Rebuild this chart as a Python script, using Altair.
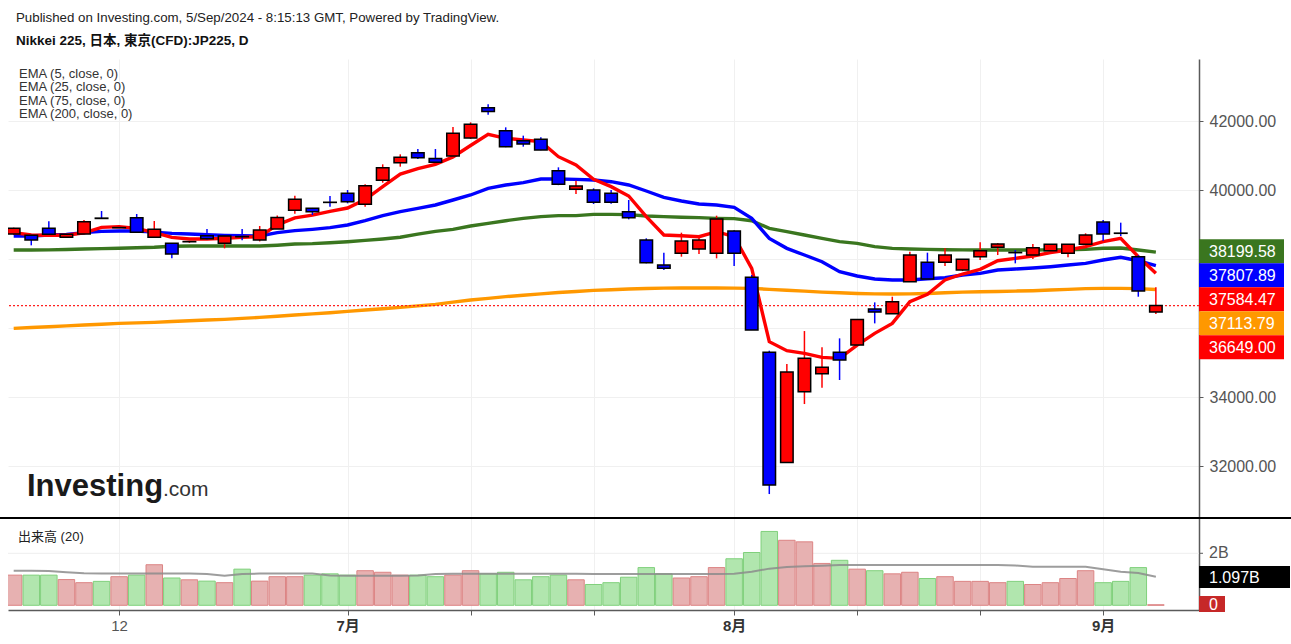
import altair as alt
import pandas as pd

FONT = "Liberation Sans, Arial, Noto Sans CJK JP, sans-serif"

# ---------------- data ----------------
# trading-day index 0 = 4 Jun 2024 ... 65 = 5 Sep 2024
idx = list(range(66))
opens = [38725, 38686, 38889, 38628, 38725, 39185, 38906, 39198, 38628, 38454,
         38500, 38676, 38454, 38650, 38551, 38870, 39410, 39468, 39645, 39903,
         39584, 40280, 40792, 41082, 40910, 40985, 41510, 42387, 41720, 41430,
         41469, 40560, 40019, 39999, 39903, 39372, 38550, 37826, 38164, 38290,
         38164, 38811, 37468, 35294, 32105, 34154, 34675, 35294, 35506, 36550,
         36415, 37342, 37903, 37903, 37681, 38067, 38338, 38190, 38115, 38241,
         38164, 38425, 39072, 38750, 38067, 36463]
highs = [38910, 38700, 39092, 38720, 39130, 39391, 38914, 39304, 39101, 38460,
         38505, 38870, 38667, 38870, 38957, 39260, 39835, 39480, 39826, 40000,
         40164, 40744, 41034, 41188, 41188, 41826, 41961, 42483, 41816, 41575,
         41527, 40657, 40270, 40048, 40000, 39710, 38599, 38183, 38763, 38620,
         39256, 38830, 37536, 35342, 34955, 35912, 35439, 35700, 36250, 36743,
         36907, 38212, 38183, 38309, 38000, 38483, 38460, 38260, 38434, 38425,
         38425, 38744, 39130, 39053, 38110, 37178]
lows = [38700, 38396, 38700, 38620, 38720, 39165, 38904, 38773, 38628, 38020,
        38470, 38560, 38309, 38540, 38510, 38870, 39314, 39275, 39517, 39613,
        39517, 40212, 40676, 40900, 40790, 40950, 41480, 42180, 41240, 41256,
        41150, 40140, 39884, 39594, 39600, 39150, 37874, 37681, 38067, 38145,
        38019, 37797, 35941, 31187, 32105, 33796, 34270, 34492, 35506, 36134,
        36415, 37342, 37391, 37797, 37650, 37970, 38115, 37874, 38000, 38241,
        38048, 38405, 38531, 38666, 36907, 36405]
closes = [38889, 38551, 38715, 38715, 39082, 39175, 38910, 38773, 38860, 38145,
          38505, 38590, 38667, 38645, 38841, 39200, 39729, 39372, 39640, 39661,
          40126, 40647, 40947, 40937, 40802, 41643, 41904, 42275, 41256, 41333,
          41159, 40164, 40116, 39642, 39642, 39198, 37893, 37729, 38521, 38550,
          39159, 38164, 35941, 31448, 34724, 35120, 34859, 35072, 36250, 36463,
          36763, 38115, 37420, 38115, 37990, 38241, 38434, 38183, 38328, 38425,
          38425, 38695, 38724, 38744, 37072, 36649]
ema5 = [38763, 38695, 38690, 38690, 38760, 38917, 38937, 38889, 38763, 38628,
        38580, 38580, 38599, 38628, 38647, 38990, 39190, 39270, 39380, 39478,
        39720, 40100, 40460, 40620, 40740, 40960, 41290, 41614, 41497, 41449,
        41401, 40966, 40725, 40309, 40097, 39826, 39227, 38695, 38676, 38647,
        38792, 38647, 37730, 35603, 35342, 35265, 35149, 35120, 35506, 35844,
        36134, 36763, 36975, 37391, 37565, 37700, 37951, 38019, 38086, 38183,
        38260, 38357, 38502, 38599, 38067, 37584]
ema25 = [38667, 38667, 38695, 38710, 38763, 38802, 38812, 38812, 38780, 38744,
         38724, 38705, 38686, 38676, 38667, 38763, 38821, 38860, 38908, 38985,
         39110, 39256, 39372, 39468, 39565, 39710, 39855, 40048, 40145, 40212,
         40319, 40319, 40309, 40290, 40241, 40145, 39971, 39787, 39681, 39594,
         39565, 39497, 39178, 38598, 38309, 38115, 37922, 37632, 37507, 37420,
         37391, 37391, 37429, 37458, 37536, 37584, 37680, 37710, 37739, 37777,
         37825, 37874, 37970, 38048, 37950, 37808]
ema75 = [38260, 38262, 38265, 38275, 38290, 38300, 38310, 38325, 38340, 38370,
         38375, 38375, 38375, 38375, 38375, 38400, 38435, 38445, 38470, 38500,
         38540, 38580, 38630, 38720, 38800, 38860, 38956, 39033, 39110, 39179,
         39227, 39256, 39256, 39294, 39294, 39285, 39246, 39227, 39210, 39198,
         39179, 39169, 39110, 38888, 38792, 38695, 38598, 38502, 38454, 38357,
         38309, 38290, 38280, 38270, 38265, 38260, 38260, 38260, 38262, 38265,
         38270, 38280, 38310, 38320, 38260, 38200]
ema200 = [35990, 36014, 36038, 36062, 36086, 36110, 36134, 36148, 36163, 36188,
          36212, 36231, 36250, 36279, 36308, 36342, 36376, 36410, 36444, 36482,
          36521, 36560, 36598, 36640, 36685, 36750, 36810, 36860, 36910, 36950,
          36990, 37030, 37060, 37090, 37110, 37130, 37145, 37155, 37160, 37160,
          37160, 37155, 37150, 37120, 37095, 37070, 37040, 37020, 37000, 36990,
          36985, 36990, 37000, 37020, 37040, 37052, 37060, 37070, 37081, 37100,
          37120, 37140, 37149, 37149, 37140, 37114]
volumes = [1.16, 1.16, 1.16, 0.99, 0.87, 0.92, 1.10, 1.16, 1.56, 1.05,
           0.98, 0.93, 0.87, 1.39, 0.93, 1.10, 1.10, 1.16, 1.21, 1.16,
           1.33, 1.27, 1.16, 1.16, 1.10, 1.16, 1.33, 1.21, 1.27, 0.98,
           1.10, 1.16, 0.98, 0.80, 0.87, 1.08, 1.45, 1.21, 1.05, 1.10,
           1.45, 1.79, 2.03, 2.84, 2.50, 2.44, 1.61, 1.73, 1.39, 1.33,
           1.21, 1.27, 1.03, 1.10, 0.92, 0.92, 0.87, 0.92, 0.80, 0.87,
           1.03, 1.33, 0.87, 0.92, 1.45, 0.02]
vol_sma = [1.33, 1.33, 1.32, 1.27, 1.23, 1.22, 1.22, 1.22, 1.22, 1.22,
           1.22, 1.20, 1.14, 1.20, 1.22, 1.22, 1.22, 1.22, 1.15, 1.14,
           1.14, 1.14, 1.14, 1.15, 1.20, 1.21, 1.21, 1.21, 1.21, 1.21,
           1.21, 1.21, 1.21, 1.20, 1.20, 1.20, 1.20, 1.20, 1.20, 1.20,
           1.20, 1.21, 1.29, 1.41, 1.47, 1.50, 1.52, 1.55, 1.55, 1.55,
           1.55, 1.55, 1.55, 1.55, 1.55, 1.55, 1.55, 1.53, 1.48, 1.48,
           1.48, 1.48, 1.39, 1.29, 1.24, 1.10]

last_price = 36649.00
price_ticks = [32000, 34000, 36000, 38000, 40000, 42000]
x_tick_idx = [6, 19, 26, 33, 41, 48, 55, 62]
x_tick_text = ["12", "7月", "", "", "8月", "", "", "9月"]

tag_labels = ["38199.58", "37807.89", "37584.47", "37113.79", "36649.00"]
tag_colors = ["#3a761f", "#0000ff", "#ff0000", "#ff9800", "#ff0000"]
legend_lines = ["EMA (5, close, 0)", "EMA (25, close, 0)", "EMA (75, close, 0)", "EMA (200, close, 0)"]

df = pd.DataFrame(dict(i=idx, open=opens, high=highs, low=lows, close=closes,
                       ema5=ema5, ema25=ema25, ema75=ema75, ema200=ema200,
                       vol=volumes, vsma=vol_sma))
df["dir"] = ["up" if c >= o else "down" for o, c in zip(opens, closes)]

# ---------------- scales / axes ----------------
W, H = 1191, 551
xscale = alt.Scale(domain=[-0.0395, 67.17], nice=False, zero=False)
pscale = alt.Scale(domain=[27826.1, 43797.1], nice=False, zero=False)
vscale = alt.Scale(domain=[-0.181, 21.01], nice=False, zero=False)

expr = "''"
for v, t in reversed(list(zip(x_tick_idx, x_tick_text))):
    expr = f"datum.value == {v} ? '{t}' : ({expr})"

xaxis = alt.Axis(values=x_tick_idx, labelExpr=expr, grid=True, gridColor="#f0f0f0",
                 gridWidth=1, domainColor="#5a5a5a", domainWidth=1.5, tickColor="#5a5a5a",
                 tickSize=5, tickWidth=1, labelFont=FONT, labelFontSize=15, labelPadding=3,
                 labelColor={"condition": {"test": "datum.value == 6", "value": "#555555"}, "value": "#333333"},
                 labelFontWeight={"condition": {"test": "datum.value == 6", "value": "normal"}, "value": "bold"},
                 labelFlush=False, labelOverlap=False, title=None, zindex=0)
X = alt.X("i:Q", scale=xscale, axis=xaxis)

paxis = alt.Axis(orient="right", values=price_ticks,
                 labelExpr="(datum.value == 36000 || datum.value == 38000) ? '' : format(datum.value, '.2f')",
                 grid=True, gridColor="#f0f0f0", gridWidth=1, domainColor="#5a5a5a", domainWidth=1.5,
                 tickColor="#5a5a5a", tickSize=4, labelFont=FONT, labelFontSize=16, labelColor="#555555",
                 labelPadding=6, labelOverlap=False, labelFlush=False, title=None, zindex=0)

candle_color = alt.Color("dir:N", scale=alt.Scale(domain=["up", "down"], range=["#ff0000", "#0000ff"]), legend=None)

base = alt.Chart(df)

def ema_line(field, color):
    return base.mark_line(color=color, strokeWidth=3.4, clip=True).encode(
        x=X, y=alt.Y(f"{field}:Q", scale=pscale, axis=None))

wicks = base.mark_rule(strokeWidth=1.5, clip=True).encode(
    x=X, y=alt.Y("low:Q", scale=pscale, axis=None), y2="high:Q", color=candle_color)
bodies = base.mark_bar(size=12.5, stroke="black", strokeWidth=1.5, clip=True).encode(
    x=X, y=alt.Y("open:Q", scale=pscale, axis=paxis), y2="close:Q", color=candle_color)

price_line = alt.Chart(pd.DataFrame({"p": [last_price]})).mark_rule(
    color="#ff2020", strokeDash=[2, 2], strokeWidth=1.2).encode(y=alt.Y("p:Q", scale=pscale, axis=None))

vol_grid = alt.Chart(pd.DataFrame({"v": [2]})).mark_rule(color="#eeeeee", strokeWidth=1).encode(
    y=alt.Y("v:Q", scale=vscale, axis=None))
vol_tick = alt.Chart(pd.DataFrame({"v": [2]})).mark_rule(color="#5a5a5a", strokeWidth=1).encode(
    x=alt.value(1191), x2=alt.value(1195), y=alt.Y("v:Q", scale=vscale, axis=None))
vol_label = alt.Chart(pd.DataFrame({"v": [2], "t": ["2B"]})).mark_text(
    align="left", baseline="middle", font=FONT, fontSize=16, color="#555555").encode(
    x=alt.value(1201), y=alt.Y("v:Q", scale=vscale, axis=None), text="t:N")

vol_bars = base.mark_bar(size=16.5, strokeWidth=1, clip=True).encode(
    x=X, y=alt.Y("vol:Q", scale=vscale, axis=None),
    fill=alt.Fill("dir:N", scale=alt.Scale(domain=["up", "down"], range=["#e7b1b1", "#b1e6ae"]), legend=None),
    stroke=alt.Stroke("dir:N", scale=alt.Scale(domain=["up", "down"], range=["#dc8484", "#80d07c"]), legend=None))
vol_line = base.mark_line(color="#8c8c8c", strokeWidth=2, opacity=0.85, clip=True).encode(
    x=X, y=alt.Y("vsma:Q", scale=vscale, axis=None))

one = alt.Data(values=[{"a": 1}])

def txt(s, x, y, size=13, weight="normal", color="#222222", baseline="alphabetic"):
    return alt.Chart(alt.Data(values=[{"t": s}])).mark_text(
        align="left", baseline=baseline, font=FONT, fontSize=size, fontWeight=weight, color=color
    ).encode(x=alt.value(x), y=alt.value(y), text="t:N")

def box(x1, x2, y1, y2, color):
    return alt.Chart(one).mark_rect(color=color).encode(
        x=alt.value(x1), x2=alt.value(x2), y=alt.value(y1), y2=alt.value(y2))

separator = alt.Chart(one).mark_rule(color="black", strokeWidth=2).encode(
    x=alt.value(-8), x2=alt.value(1283), y=alt.value(459))

layers = [ema_line("ema200", "#ff9800"), ema_line("ema75", "#3a761f"),
          ema_line("ema25", "#0000ff"), ema_line("ema5", "#ff0000"),
          price_line, wicks, bodies,
          vol_grid, vol_bars, vol_line, vol_tick, vol_label, separator]

# price tags on the right axis (stacked like the original)
tag_top = 180.3
for k, (lab, col) in enumerate(zip(tag_labels, tag_colors)):
    y1 = tag_top + 24 * k
    layers.append(box(1191, 1276, y1, y1 + 24, col))
    layers.append(txt(lab, 1201, y1 + 12.5, size=16, color="white", baseline="middle"))

# volume tags
layers.append(box(1191, 1282, 507, 529, "#000000"))
layers.append(txt("1.097B", 1201, 518.5, size=16, color="white", baseline="middle"))
layers.append(box(1191, 1217, 537, 553, "#c62828"))
layers.append(txt("0", 1201, 545.5, size=16, color="white", baseline="middle"))

# header texts / legend
layers.append(txt("Published on Investing.com, 5/Sep/2024 - 8:15:13 GMT, Powered by TradingView.", 8, -37.5, size=13.3, color="#222222"))
layers.append(txt("Nikkei 225, 日本, 東京(CFD):JP225, D", 8, -14.5, size=13.5, weight="bold", color="#111111"))
for k, s in enumerate(legend_lines):
    layers.append(txt(s, 11, 18.5 + 13.5 * k, size=13, color="#333333"))
layers.append(txt("出来高 (20)", 10, 481.5, size=13, color="#222222"))

# watermark
layers.append(txt("Investing", 19, 437, size=31, weight="bold", color="#1a1a1a"))
layers.append(txt(".com", 155, 437, size=21, color="#333333"))

chart = alt.layer(*layers).resolve_scale(y="independent").properties(
    width=W, height=H,
    autosize=alt.AutoSizeParams(type="none"),
    padding={"left": 8, "top": 59, "right": 92, "bottom": 34},
    background="white",
).configure_view(stroke=None)

chart.save("out.html", embed_options={"renderer": "svg", "actions": False})
